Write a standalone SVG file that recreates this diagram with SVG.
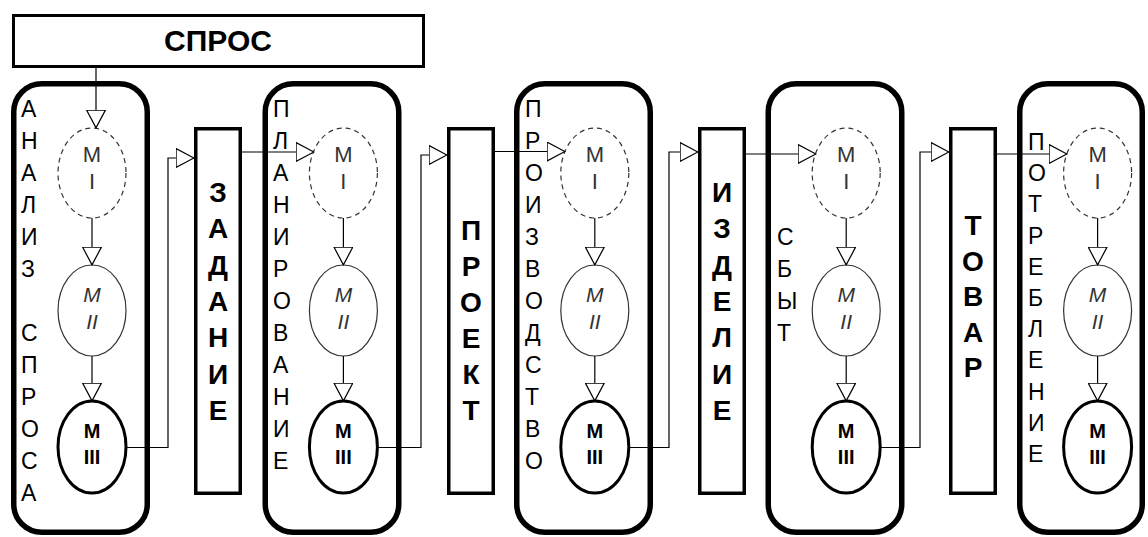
<svg xmlns="http://www.w3.org/2000/svg" width="1148" height="537" viewBox="0 0 1148 537">
<style>
.stage{fill:#fff;stroke:#000;stroke-width:5.5}
.box{fill:#fff;stroke:#000;stroke-width:3.5}
.col{font-family:"Liberation Sans",Arial,sans-serif;font-size:23px;fill:#000}
.big{font-family:"Liberation Sans",Arial,sans-serif;font-size:28px;font-weight:bold;fill:#000;text-anchor:middle}
.m1{fill:#fff;stroke:#333;stroke-width:1.2;stroke-dasharray:5,4}
.m2{fill:#fff;stroke:#333;stroke-width:1.2}
.m3{fill:#fff;stroke:#000;stroke-width:3}
.t1{font-family:"Liberation Sans",Arial,sans-serif;font-size:22px;fill:#333;text-anchor:middle}
.t2{font-family:"Liberation Sans",Arial,sans-serif;font-size:21px;font-style:italic;fill:#333;text-anchor:middle}
.t3{font-family:"Liberation Sans",Arial,sans-serif;font-size:20px;font-weight:bold;fill:#000;text-anchor:middle}
.c{fill:none;stroke:#000;stroke-width:1.2}
</style>
<defs>
<marker id="ah" viewBox="0 0 19 20" refX="18.5" refY="10" markerWidth="19" markerHeight="20" markerUnits="userSpaceOnUse" orient="auto">
<path d="M0.6,0.6 L18.4,10 L0.6,19.4 Z" fill="#fff" stroke="#000" stroke-width="1.2"/>
</marker>
</defs>

<g id="spros">
<rect x="13.5" y="15.5" width="410" height="51" fill="#fff" stroke="#000" stroke-width="3"/>
<text x="218" y="51" class="big" style="font-size:30px">СПРОС</text>
</g>

<g id="stage1">
<rect class="stage" x="13.75" y="83.75" width="133.5" height="448.5" rx="28"/>
<text class="col"><tspan x="21" y="117">А</tspan><tspan x="21" y="149">Н</tspan><tspan x="21" y="181">А</tspan><tspan x="21" y="213">Л</tspan><tspan x="21" y="245">И</tspan><tspan x="21" y="277">З</tspan><tspan x="21" y="341">С</tspan><tspan x="21" y="373">П</tspan><tspan x="21" y="405">Р</tspan><tspan x="21" y="437">О</tspan><tspan x="21" y="469">С</tspan><tspan x="21" y="501">А</tspan></text>
</g>
<g id="stage2">
<rect class="stage" x="265.25" y="83.75" width="133.5" height="448.5" rx="28"/>
<text class="col"><tspan x="273" y="117">П</tspan><tspan x="273" y="149">Л</tspan><tspan x="273" y="181">А</tspan><tspan x="273" y="213">Н</tspan><tspan x="273" y="245">И</tspan><tspan x="273" y="277">Р</tspan><tspan x="273" y="309">О</tspan><tspan x="273" y="341">В</tspan><tspan x="273" y="373">А</tspan><tspan x="273" y="405">Н</tspan><tspan x="273" y="437">И</tspan><tspan x="273" y="469">Е</tspan></text>
</g>
<g id="stage3">
<rect class="stage" x="516.75" y="83.75" width="133.5" height="448.5" rx="28"/>
<text class="col"><tspan x="525" y="117">П</tspan><tspan x="525" y="149">Р</tspan><tspan x="525" y="181">О</tspan><tspan x="525" y="213">И</tspan><tspan x="525" y="245">З</tspan><tspan x="525" y="277">В</tspan><tspan x="525" y="309">О</tspan><tspan x="525" y="341">Д</tspan><tspan x="525" y="373">С</tspan><tspan x="525" y="405">Т</tspan><tspan x="525" y="437">В</tspan><tspan x="525" y="469">О</tspan></text>
</g>
<g id="stage4">
<rect class="stage" x="768.25" y="83.75" width="133.5" height="448.5" rx="28"/>
<text class="col"><tspan x="777" y="245">С</tspan><tspan x="777" y="277">Б</tspan><tspan x="777" y="309">Ы</tspan><tspan x="777" y="341">Т</tspan></text>
</g>
<g id="stage5">
<rect class="stage" x="1019.75" y="83.75" width="122.5" height="448.5" rx="28"/>
<text class="col"><tspan x="1028" y="150">П</tspan><tspan x="1028" y="181.2">О</tspan><tspan x="1028" y="212.4">Т</tspan><tspan x="1028" y="243.6">Р</tspan><tspan x="1028" y="274.8">Е</tspan><tspan x="1028" y="306">Б</tspan><tspan x="1028" y="337.2">Л</tspan><tspan x="1028" y="368.4">Е</tspan><tspan x="1028" y="399.6">Н</tspan><tspan x="1028" y="430.8">И</tspan><tspan x="1028" y="462">Е</tspan></text>
</g>

<g id="zadanie">
<rect class="box" x="195.75" y="128.75" width="44.5" height="364.5"/>
<text class="big"><tspan x="218" y="202">З</tspan><tspan x="218" y="238.3">А</tspan><tspan x="218" y="274.6">Д</tspan><tspan x="218" y="310.9">А</tspan><tspan x="218" y="347.2">Н</tspan><tspan x="218" y="383.5">И</tspan><tspan x="218" y="419.8">Е</tspan></text>
</g>
<g id="proekt">
<rect class="box" x="448.75" y="128.75" width="44.5" height="364.5"/>
<text class="big"><tspan x="471" y="240">П</tspan><tspan x="471" y="276">Р</tspan><tspan x="471" y="312">О</tspan><tspan x="471" y="348">Е</tspan><tspan x="471" y="384">К</tspan><tspan x="471" y="420">Т</tspan></text>
</g>
<g id="izdelie">
<rect class="box" x="699.75" y="128.75" width="44.5" height="364.5"/>
<text class="big"><tspan x="722" y="202">И</tspan><tspan x="722" y="238.3">З</tspan><tspan x="722" y="274.6">Д</tspan><tspan x="722" y="310.9">Е</tspan><tspan x="722" y="347.2">Л</tspan><tspan x="722" y="383.5">И</tspan><tspan x="722" y="419.8">Е</tspan></text>
</g>
<g id="tovar">
<rect class="box" x="950.75" y="128.75" width="44.5" height="364.5"/>
<text class="big"><tspan x="973" y="235">Т</tspan><tspan x="973" y="270.5">О</tspan><tspan x="973" y="306">В</tspan><tspan x="973" y="341.5">А</tspan><tspan x="973" y="377">Р</tspan></text>
</g>

<g id="m1-1"><ellipse class="m1" cx="92" cy="173" rx="34" ry="45"/><text class="t1"><tspan x="92" y="162">M</tspan><tspan x="92" y="189">I</tspan></text></g>
<g id="m2-1"><ellipse class="m2" cx="92" cy="310.5" rx="34" ry="45.5"/><text class="t2"><tspan x="92" y="302">M</tspan><tspan x="92" y="329">II</tspan></text></g>
<g id="m3-1"><ellipse class="m3" cx="92" cy="447" rx="34" ry="46"/><text class="t3"><tspan x="92" y="438">M</tspan><tspan x="92" y="464">III</tspan></text></g>

<g id="m1-2"><ellipse class="m1" cx="343.4" cy="173" rx="34" ry="45"/><text class="t1"><tspan x="343.4" y="162">M</tspan><tspan x="343.4" y="189">I</tspan></text></g>
<g id="m2-2"><ellipse class="m2" cx="343.4" cy="310.5" rx="34" ry="45.5"/><text class="t2"><tspan x="343.4" y="302">M</tspan><tspan x="343.4" y="329">II</tspan></text></g>
<g id="m3-2"><ellipse class="m3" cx="343.4" cy="447" rx="34" ry="46"/><text class="t3"><tspan x="343.4" y="438">M</tspan><tspan x="343.4" y="464">III</tspan></text></g>

<g id="m1-3"><ellipse class="m1" cx="594.8" cy="173" rx="34" ry="45"/><text class="t1"><tspan x="594.8" y="162">M</tspan><tspan x="594.8" y="189">I</tspan></text></g>
<g id="m2-3"><ellipse class="m2" cx="594.8" cy="310.5" rx="34" ry="45.5"/><text class="t2"><tspan x="594.8" y="302">M</tspan><tspan x="594.8" y="329">II</tspan></text></g>
<g id="m3-3"><ellipse class="m3" cx="594.8" cy="447" rx="34" ry="46"/><text class="t3"><tspan x="594.8" y="438">M</tspan><tspan x="594.8" y="464">III</tspan></text></g>

<g id="m1-4"><ellipse class="m1" cx="846.2" cy="173" rx="34" ry="45"/><text class="t1"><tspan x="846.2" y="162">M</tspan><tspan x="846.2" y="189">I</tspan></text></g>
<g id="m2-4"><ellipse class="m2" cx="846.2" cy="310.5" rx="34" ry="45.5"/><text class="t2"><tspan x="846.2" y="302">M</tspan><tspan x="846.2" y="329">II</tspan></text></g>
<g id="m3-4"><ellipse class="m3" cx="846.2" cy="447" rx="34" ry="46"/><text class="t3"><tspan x="846.2" y="438">M</tspan><tspan x="846.2" y="464">III</tspan></text></g>

<g id="m1-5"><ellipse class="m1" cx="1097.6" cy="173" rx="34" ry="45"/><text class="t1"><tspan x="1097.6" y="162">M</tspan><tspan x="1097.6" y="189">I</tspan></text></g>
<g id="m2-5"><ellipse class="m2" cx="1097.6" cy="310.5" rx="34" ry="45.5"/><text class="t2"><tspan x="1097.6" y="302">M</tspan><tspan x="1097.6" y="329">II</tspan></text></g>
<g id="m3-5"><ellipse class="m3" cx="1097.6" cy="447" rx="34" ry="46"/><text class="t3"><tspan x="1097.6" y="438">M</tspan><tspan x="1097.6" y="464">III</tspan></text></g>

<g id="connectors">
<path class="c" d="M96,67 V128" marker-end="url(#ah)"/>
<path class="c" d="M92,218 V265" marker-end="url(#ah)"/>
<path class="c" d="M92,356 V401" marker-end="url(#ah)"/>
<path class="c" d="M343.4,218 V265" marker-end="url(#ah)"/>
<path class="c" d="M343.4,356 V401" marker-end="url(#ah)"/>
<path class="c" d="M594.8,218 V265" marker-end="url(#ah)"/>
<path class="c" d="M594.8,356 V401" marker-end="url(#ah)"/>
<path class="c" d="M846.2,218 V265" marker-end="url(#ah)"/>
<path class="c" d="M846.2,356 V401" marker-end="url(#ah)"/>
<path class="c" d="M1097.6,218 V265" marker-end="url(#ah)"/>
<path class="c" d="M1097.6,356 V401" marker-end="url(#ah)"/>
<path class="c" d="M126,447.5 H168 V158 H194" marker-end="url(#ah)"/>
<path class="c" d="M377.4,447.5 H421 V155 H447" marker-end="url(#ah)"/>
<path class="c" d="M628.8,447.5 H669 V152 H698" marker-end="url(#ah)"/>
<path class="c" d="M880.2,447.5 H920 V152 H949" marker-end="url(#ah)"/>
<path class="c" d="M242,152 H314" marker-end="url(#ah)"/>
<path class="c" d="M493,151.5 H565" marker-end="url(#ah)"/>
<path class="c" d="M746,154 H816" marker-end="url(#ah)"/>
<path class="c" d="M997,154 H1067" marker-end="url(#ah)"/>
</g>
</svg>
